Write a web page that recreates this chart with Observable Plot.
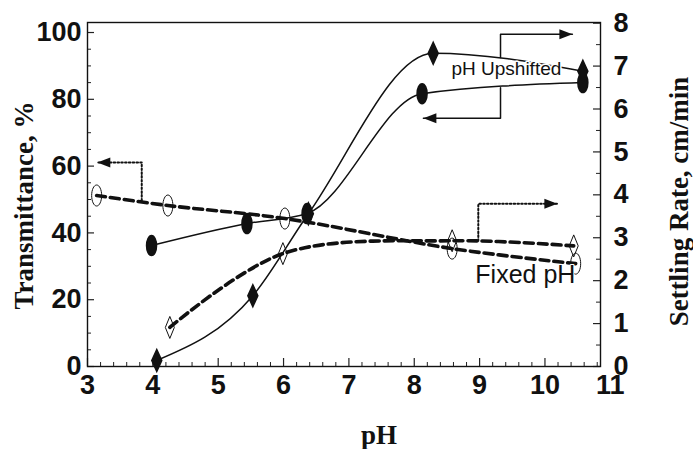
<!DOCTYPE html>
<html><head><meta charset="utf-8">
<script src="https://cdn.jsdelivr.net/npm/d3@7"></script>
<script src="https://cdn.jsdelivr.net/npm/@observablehq/plot@0.6"></script>
<style>body{margin:0;background:#fff} svg{display:block}</style>
</head><body><div id="chart"></div>
<script>
// ---- axis ticks ----
const xTicks = [3, 4, 5, 6, 7, 8, 9, 10, 11];
const leftTicks = [0, 20, 40, 60, 80, 100];
const rightTicks = [0, 1, 2, 3, 4, 5, 6, 7, 8];

// ---- series (pH, value) ----
// pH upshifted – transmittance (%) – filled ellipses, solid
const upT_pH = [3.98, 5.44, 6.36, 8.12, 10.58];
const upT    = [36.2, 42.8, 45.8, 81.7, 85.0];
// pH upshifted – settling rate (cm/min) – filled diamonds, solid
const upS_pH = [4.06, 5.53, 6.38, 8.29, 10.58];
const upS    = [0.14, 1.65, 3.56, 7.30, 6.88];
// fixed pH – transmittance (%) – open ellipses, dashed
const fixT_pH = [3.14, 4.23, 6.02, 8.58, 10.47];
const fixT    = [51.2, 48.2, 44.3, 35.3, 30.8];
// fixed pH – settling rate (cm/min) – open diamonds, dashed
const fixS_pH = [4.26, 5.99, 8.58, 10.44];
const fixS    = [0.91, 2.63, 2.93, 2.81];

// ---- annotation arrows (pH, value) ----
const dotL_pH = [3.83, 3.83, 3.15];  const dotL_T = [49.7, 61.1, 61.1];   // -> transmittance
const dotR_pH = [8.98, 8.98, 10.19]; const dotR_S = [2.93, 3.79, 3.79];   // -> settling
const solR_pH = [9.32, 9.32, 10.42]; const solR_S = [7.2, 7.74, 7.74];    // -> settling
const solL_pH = [9.32, 9.32, 8.14];  const solL_T = [83.5, 74.3, 74.3];   // -> transmittance
const labels = ["pH Upshifted", "Fixed pH"];
const labelPH = [9.41, 9.70];
const labelT  = [89.2, 27.5];

// ---- scales ----
const Y_MAX = 103;           // left axis top (%)
const RATIO = 102.8 / 8;     // settling-rate unit -> % unit on shared position scale
const X_DOM = [3, 10.85];
const W = 693, H = 449, ML = 87, MR = 93, MT = 22, MB = 83;
const pxX = (W - ML - MR) / (X_DOM[1] - X_DOM[0]);
const pxY = (H - MT - MB) / Y_MAX;

const pts = (xs, ys, k = 1) => xs.map((x, i) => ({x, y: ys[i] * k}));
const kk = 0.5523;
const ellipseSym = (rx, ry) => ({draw(c) {
  c.moveTo(0, -ry);
  c.bezierCurveTo(kk * rx, -ry, rx, -kk * ry, rx, 0);
  c.bezierCurveTo(rx, kk * ry, kk * rx, ry, 0, ry);
  c.bezierCurveTo(-kk * rx, ry, -rx, kk * ry, -rx, 0);
  c.bezierCurveTo(-rx, -kk * ry, -kk * rx, -ry, 0, -ry);
  c.closePath();
}});
const diamondSym = (w, h) => ({draw(c) {
  c.moveTo(0, -h); c.lineTo(w, 0); c.lineTo(0, h); c.lineTo(-w, 0); c.closePath();
}});
const headSym = {draw(c) { c.moveTo(0, 0); c.lineTo(-13, -5); c.lineTo(-13, 5); c.closePath(); }};

const xMinor = d3.range(3, 10.81, 0.2).map(v => +v.toFixed(2)).filter(v => Math.abs(v - Math.round(v)) > 1e-6);
const xMajor = xTicks.filter(v => v <= X_DOM[1]);
const lMinor = d3.range(0, 101, 5).filter(v => v % 20 !== 0);
const rMinor = d3.range(0, 8.01, 0.5).filter(v => v % 1 !== 0);

const TICKFONT = {fontFamily: "Liberation Sans, Arial, sans-serif", fontWeight: "bold", fontSize: 27, fill: "#111"};
const TITLEFONT = {fontFamily: "Liberation Serif, Times New Roman, serif", fontWeight: "bold", fontSize: 27, fill: "#111", textAnchor: "middle"};
const DASH = {stroke: "#111", strokeWidth: 3.6, strokeDasharray: "9,5", curve: "catmull-rom"};
const SOLID = {stroke: "#111", strokeWidth: 1.5, curve: "monotone-x"};
const DOTTED = {stroke: "#111", strokeWidth: 2, strokeDasharray: "1.6,2.2"};

const chart = Plot.plot({
  width: W, height: H,
  marginLeft: ML, marginRight: MR, marginTop: MT, marginBottom: MB,
  x: {domain: X_DOM, axis: null},
  y: {domain: [0, Y_MAX], axis: null},
  style: {background: "white", overflow: "visible", fontFamily: "Liberation Sans, Arial, sans-serif"},
  marks: [
    // inward ticks
    Plot.ruleX(xMajor, {x: d => d, y1: 0, y2: 8 / pxY, stroke: "#222", strokeWidth: 1.2}),
    Plot.ruleX(xMinor, {x: d => d, y1: 0, y2: 4 / pxY, stroke: "#222", strokeWidth: 1}),
    Plot.ruleY(leftTicks, {y: d => d, x1: X_DOM[0], x2: X_DOM[0] + 7 / pxX, stroke: "#222", strokeWidth: 1.2}),
    Plot.ruleY(lMinor, {y: d => d, x1: X_DOM[0], x2: X_DOM[0] + 4 / pxX, stroke: "#222", strokeWidth: 1}),
    Plot.ruleY(rightTicks, {y: d => d * RATIO, x1: X_DOM[1] - 7 / pxX, x2: X_DOM[1], stroke: "#222", strokeWidth: 1.2}),
    Plot.ruleY(rMinor, {y: d => d * RATIO, x1: X_DOM[1] - 4 / pxX, x2: X_DOM[1], stroke: "#222", strokeWidth: 1}),
    Plot.frame({stroke: "#111", strokeWidth: 1.4}),

    // tick labels
    Plot.text(xTicks, {x: d => d, frameAnchor: "bottom", dy: 27, text: d => String(d), ...TICKFONT}),
    Plot.text(leftTicks, {y: d => d, frameAnchor: "left", dx: -6, textAnchor: "end", text: d => String(d), ...TICKFONT}),
    Plot.text(rightTicks, {y: d => d * RATIO, frameAnchor: "right", dx: 13, textAnchor: "start", text: d => String(d), ...TICKFONT}),

    // axis titles
    Plot.text(["Transmittance, %"], {frameAnchor: "left", dx: -63, dy: 11, rotate: -90, lineAnchor: "middle", ...TITLEFONT}),
    Plot.text(["Settling Rate, cm/min"], {frameAnchor: "right", dx: 79, dy: 7, rotate: -90, lineAnchor: "middle", ...TITLEFONT}),
    Plot.text(["pH"], {frameAnchor: "bottom", dx: 35, dy: 69, lineAnchor: "middle", ...TITLEFONT}),

    // curves
    Plot.line(pts(fixT_pH, fixT), {x: "x", y: "y", ...DASH}),
    Plot.line(pts(fixS_pH, fixS, RATIO), {x: "x", y: "y", ...DASH}),
    Plot.line(pts(upT_pH, upT), {x: "x", y: "y", ...SOLID}),
    Plot.line(pts(upS_pH, upS, RATIO), {x: "x", y: "y", ...SOLID}),

    // markers
    Plot.dot(pts(fixT_pH, fixT), {x: "x", y: "y", symbol: ellipseSym(5, 10.5), fill: "none", stroke: "#111", strokeWidth: 1}),
    Plot.dot(pts(fixS_pH, fixS, RATIO), {x: "x", y: "y", symbol: diamondSym(4.5, 11), fill: "none", stroke: "#111", strokeWidth: 1}),
    Plot.dot(pts(upT_pH, upT), {x: "x", y: "y", symbol: ellipseSym(5, 10), fill: "#111", stroke: "#111"}),
    Plot.dot(pts(upS_pH, upS, RATIO), {x: "x", y: "y", symbol: diamondSym(5, 11), fill: "#111", stroke: "#111"}),

    // arrows
    Plot.line(pts(dotL_pH, dotL_T), {x: "x", y: "y", ...DOTTED}),
    Plot.line(pts(dotR_pH, dotR_S, RATIO), {x: "x", y: "y", ...DOTTED}),
    Plot.line(pts(solR_pH, solR_S, RATIO), {x: "x", y: "y", stroke: "#111", strokeWidth: 1.5}),
    Plot.line(pts(solL_pH, solL_T), {x: "x", y: "y", stroke: "#111", strokeWidth: 1.5}),
    Plot.dot([{x: dotL_pH[2], y: dotL_T[2]}], {x: "x", y: "y", symbol: headSym, rotate: 180, fill: "#111", stroke: "none"}),
    Plot.dot([{x: dotR_pH[2], y: dotR_S[2] * RATIO}], {x: "x", y: "y", symbol: headSym, fill: "#111", stroke: "none"}),
    Plot.dot([{x: solR_pH[2], y: solR_S[2] * RATIO}], {x: "x", y: "y", symbol: headSym, fill: "#111", stroke: "none"}),
    Plot.dot([{x: solL_pH[2], y: solL_T[2]}], {x: "x", y: "y", symbol: headSym, rotate: 180, fill: "#111", stroke: "none"}),

    // in-plot labels
    Plot.text([0], {x: () => labelPH[0], y: () => labelT[0], text: () => labels[0], fontFamily: "Liberation Sans, Arial, sans-serif", fontSize: 19, fill: "#111", stroke: "white", strokeWidth: 3, paintOrder: "stroke"}),
    Plot.text([1], {x: () => labelPH[1], y: () => labelT[1], text: () => labels[1], fontFamily: "Liberation Sans, Arial, sans-serif", fontSize: 25, fill: "#111", stroke: "white", strokeWidth: 2, paintOrder: "stroke"})
  ]
});
document.getElementById("chart").appendChild(chart);
</script>
</body></html>
